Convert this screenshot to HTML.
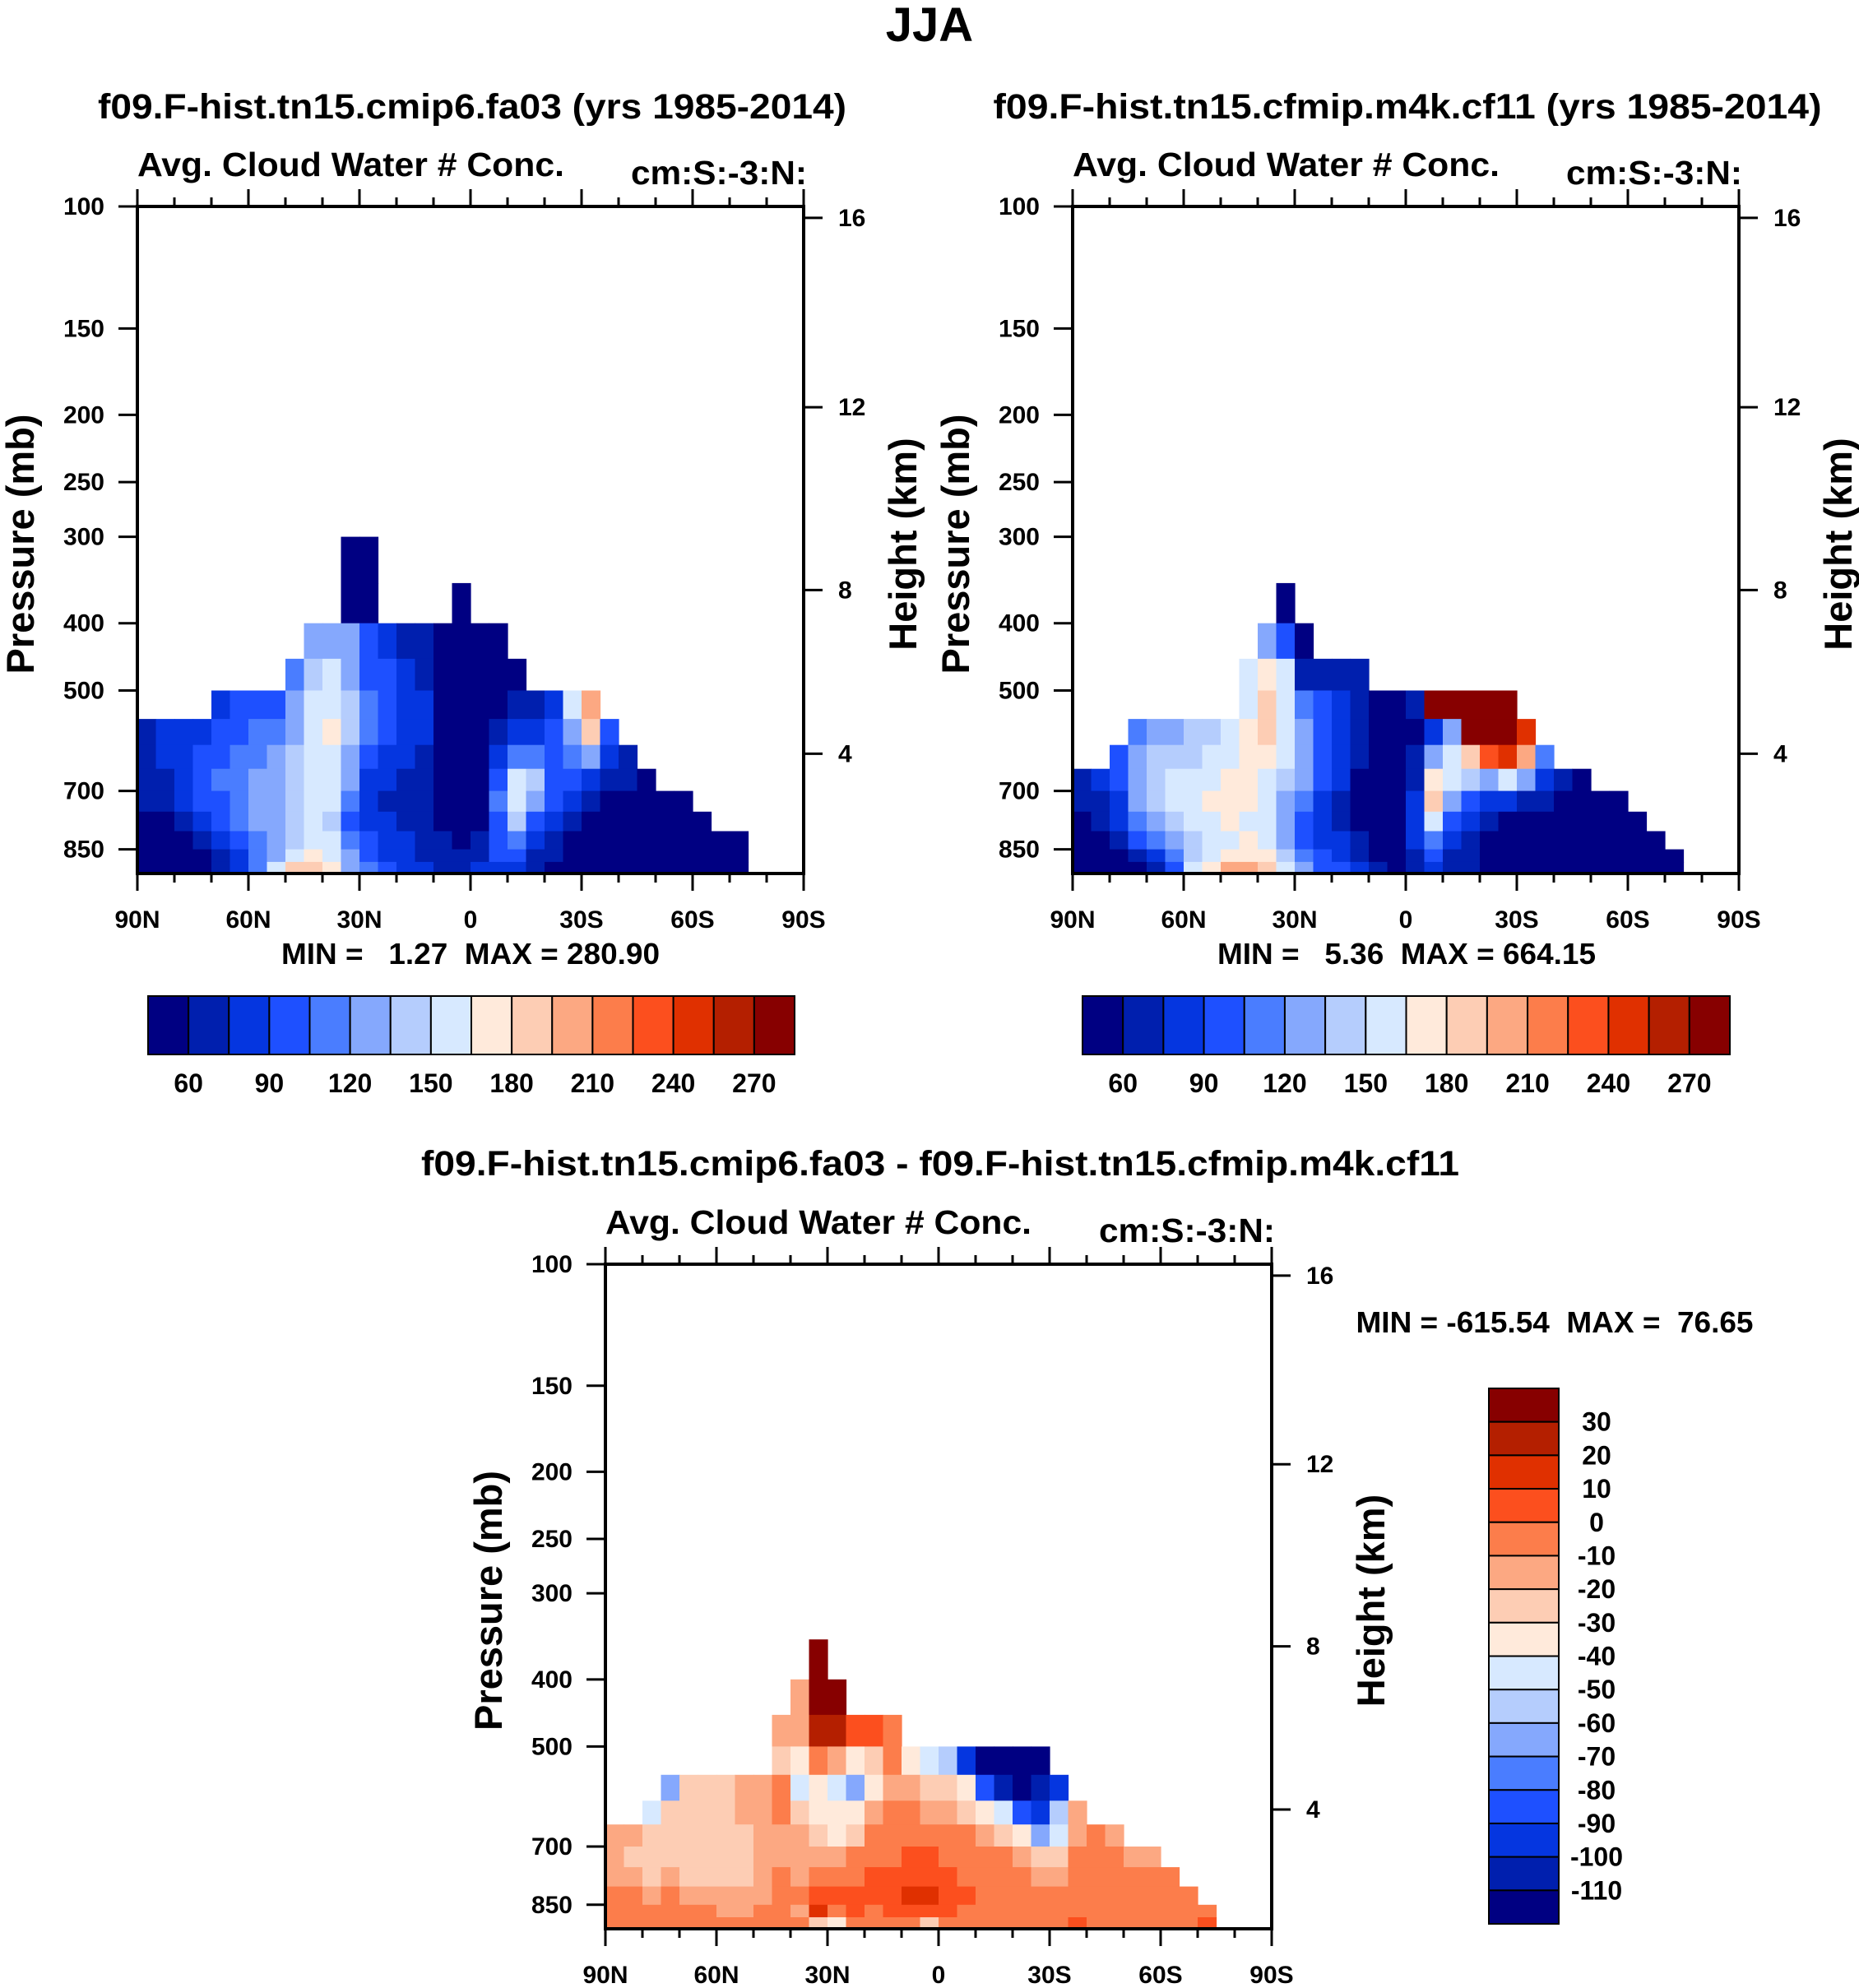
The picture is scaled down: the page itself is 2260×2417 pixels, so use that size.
<!DOCTYPE html>
<html><head><meta charset="utf-8"><style>
html,body{margin:0;padding:0;background:#fff;}
svg{display:block;font-family:"Liberation Sans",sans-serif;font-weight:bold;}
.pre{white-space:pre;}
</style></head><body>
<svg id="fig" width="2260" height="2417" viewBox="0 0 2260 2417" xmlns="http://www.w3.org/2000/svg">
<text x="1130" y="50" text-anchor="middle" font-size="58">JJA</text>
</svg>
<script>
// ---- shared data ----
const levelEdges = [300,350,400,450,500,550,600,650,700,750,800,850,925,1000];
const latEdgesStart = 90; const latStep = 5;
const pressureTicks = [100,150,200,250,300,400,500,700,850];
const heightTicks = [16,12,8,4];
const latLabels = ['90N','60N','30N','0','30S','60S','90S'];
const colors = ['#000082','#001fae','#0536e0','#1e50ff','#4a7dff','#85a8fd','#b5cdfd','#d7e9ff','#ffeadb','#fdcdb4','#fca882','#fc7d4b','#fc4f1e','#e03000','#b41f00','#870000'];
const levelsAbs = [60,75,90,105,120,135,150,165,180,195,210,225,240,255,270];
const levelsDiff = [-110,-100,-90,-80,-70,-60,-50,-40,-30,-20,-10,0,10,20,30];
const cbAbsLabels = ['60','90','120','150','180','210','240','270'];
const cbDiffLabels = ['30','20','10','0','-10','-20','-30','-40','-50','-60','-70','-80','-90','-100','-110'];

const tops1 = [550,550,550,550,500,500,500,500,450,400,400,300,300,400,400,400,400,350,400,400,450,500,500,500,500,550,600,650,700,700,750,800,800];
const vals1 = [
[70,70,65,60,55,50,45,45],[75,75,70,65,55,50,45,45],[80,85,80,75,65,55,50,50],[85,90,95,90,80,65,55,55],
[85,90,100,105,100,95,80,70,65],[90,100,110,115,115,110,100,85,80],[95,105,115,125,125,120,115,110,110],[100,110,120,130,130,130,125,130,150],
[110,120,130,135,140,140,140,145,160,185],[120,140,155,160,155,150,150,150,155,170,190],[130,150,160,165,160,155,150,145,150,160,170],
[40,40,120,130,140,140,130,120,110,100,110,120,130],[40,40,90,100,110,110,95,80,75,80,90,100,110],
[80,90,100,95,85,75,70,75,80,85,95],[70,80,85,85,80,70,65,70,75,80,85],[60,70,75,75,70,65,60,60,65,70,75],[45,50,55,55,55,50,50,55,60,65,70],
[40,40,40,40,40,40,40,40,45,55,60,65],[40,40,40,40,40,45,50,55,60,70,80],[40,45,55,60,75,100,110,100,90,90,85],
[55,65,80,110,150,160,140,110,90,80],[70,85,110,140,130,100,80,70,65],[75,90,100,100,90,75,65,60,55],[150,130,110,90,75,65,55,50,50],[200,180,120,80,65,55,50,45,45],
[100,80,65,55,50,45,45,45],[70,60,50,45,45,45,45],[55,50,45,45,45,45],[45,45,45,45,45],[45,45,45,45,45],[45,45,45,45],[45,45,45],[45,45,45]];

const tops2 = [650,650,600,550,550,550,550,550,550,450,400,350,400,450,450,450,500,500,500,500,500,500,500,500,550,600,650,650,700,700,750,800,850];
const vals2 = [
[70,60,55,45,45,45],[75,65,60,50,45,45],[100,95,85,75,60,50,45],[110,120,130,125,110,90,65,55],
[120,135,145,140,130,110,85,70],[130,140,150,150,140,125,110,100],[135,145,155,160,155,145,140,150],[140,150,160,165,160,155,160,175],
[150,155,165,165,165,160,170,200],[150,160,170,170,165,165,160,165,175,200],[120,170,185,180,170,160,155,150,160,170,190],
[40,100,150,160,160,150,140,130,120,130,140,150],[40,70,110,130,130,120,110,100,100,110,120,130],
[60,90,100,100,90,85,80,80,90,100,110],[70,80,85,80,75,70,70,75,85,95],[60,65,65,60,55,50,55,60,70,80],
[50,45,40,40,40,45,50,55,60],[50,45,40,40,40,40,45,50,55],[60,55,60,70,75,80,80,70,65],[290,80,120,170,180,150,110,90,80],
[300,130,160,150,120,90,80,70,70],[300,290,180,140,100,80,65,60,60],[300,290,230,120,80,60,55,50,50],[300,280,250,150,75,55,50,45,45],
[240,200,120,70,55,50,45,45],[110,80,60,50,45,45,45],[60,50,45,45,45,45],[50,45,45,45,45,45],[45,45,45,45,45],[45,45,45,45,45],[45,45,45,45],[45,45,45],[45,45]];

const tops3 = [650,650,600,550,550,550,550,550,550,450,400,350,400,450,450,450,500,500,500,500,500,500,500,500,550,600,650,650,700,700,750,800,850];
const vals3 = [
[-15,-15,-15,-5,-5,-5],[-20,-25,-15,-5,-5,-5],[-50,-25,-30,-25,-15,-5,-5],[-70,-30,-30,-25,-20,-10,-5,-5],
[-30,-25,-25,-30,-25,-15,-10,-5],[-25,-25,-25,-30,-30,-20,-10,-5],[-25,-25,-30,-30,-25,-20,-15,-5],[-20,-20,-25,-25,-25,-20,-15,-5],
[-15,-15,-20,-20,-20,-15,-10,-5],[-15,-25,-10,-10,-15,-15,-10,-5,-10,-5],[-15,-20,-40,-45,-30,-20,-15,-15,-10,-15,-5],
[35,35,25,-10,-35,-40,-30,-15,-5,5,10,-30],[30,20,-20,-50,-40,-35,-20,-10,5,-5,-35],
[5,-40,-70,-40,-30,-10,-5,5,5,-5],[0,-30,-40,-20,-5,-5,5,5,-5,-5],[-5,-10,-20,-10,-5,-5,5,5,5,-5],
[-35,-20,-5,-5,5,5,10,5,-5],[-45,-30,-15,-5,5,5,10,5,-30],[-60,-30,-20,-10,-5,5,5,5,-5],[-100,-40,-30,-10,-5,-5,5,-5,-5],
[-120,-90,-40,-20,-10,-5,-5,-5,-5],[-120,-110,-50,-30,-10,-5,-5,-5,-5],[-120,-120,-90,-40,-20,-10,-5,-5,-5],[-120,-110,-100,-70,-30,-15,-5,-5,-5],
[-100,-60,-50,-30,-15,-5,-5,-5],[-20,-15,-10,-5,-5,-5,5],[-10,-10,-5,-5,-5,-5],[-15,-10,-10,-5,-5,-5],[-15,-10,-5,-5,-5],[-15,-10,-5,-5,-5],[-10,-5,-5,-5],[-10,-5,-5],[-5,5]];

const tickP = [100,150,200,250,300,400,500,700,850,1000];
const tickF = [0,0.1829,0.3124,0.4133,0.4952,0.6248,0.7257,0.8762,0.9638,1.0];
const heightF = {16:0.0171,12:0.301,8:0.575,4:0.8205};
function pFrac(p){
  for(let i=0;i<tickP.length-1;i++){
    if(p>=tickP[i]&&p<=tickP[i+1]){
      const t=(Math.log(p)-Math.log(tickP[i]))/(Math.log(tickP[i+1])-Math.log(tickP[i]));
      return tickF[i]+t*(tickF[i+1]-tickF[i]);
    }
  }
  return 1;
}
function classIdx(v,lev){let k=0;while(k<lev.length&&v>=lev[k])k++;return k;}
const NS='http://www.w3.org/2000/svg';
const svg=document.getElementById('fig');
function mk(tag,attrs,parent){const e=document.createElementNS(NS,tag);for(const k in attrs)e.setAttribute(k,attrs[k]);(parent||svg).appendChild(e);return e;}
function txt(s,attrs,parent){const e=mk('text',attrs,parent);e.textContent=s;return e;}

function panel(o){
  const g=mk('g',{});
  
  
  const X=o.x,Y=o.y,W=o.w,H=o.h;
  const xs=lat=>X+(90-lat)/180*W;
  const ys=p=>Y+pFrac(p)*H;
  const cg=mk('g',{},g);
  
  
  o.tops.forEach((top,c)=>{
    const r0=levelEdges.indexOf(top);
    const col=o.vals[c];
    col.forEach((v,k)=>{
      const r=r0+k;
      const x0=xs(latEdgesStart-c*latStep),x1=xs(latEdgesStart-(c+1)*latStep);
      const y0=ys(levelEdges[r]),y1=ys(levelEdges[r+1]);
      const rc=mk('rect',{x:x0.toFixed(1),y:y0.toFixed(1),width:(x1-x0+0.6).toFixed(1),height:(y1-y0+0.6).toFixed(1),fill:colors[classIdx(v,o.lev)]},cg);
      
      
    });
  });
  const fr=mk('rect',{x:X,y:Y,width:W,height:H,fill:'none',stroke:'#000','stroke-width':4},g);
  
  
  pressureTicks.forEach(p=>{
    const y=ys(p);
    mk('line',{x1:X-23,x2:X,y1:y,y2:y,stroke:'#000','stroke-width':3},g);
    const t=txt(String(p),{x:X-40,y:y+10,'text-anchor':'end','font-size':30},g);
    
    
  });
  heightTicks.forEach(h=>{
    const y=Y+heightF[h]*H;
    mk('line',{x1:X+W,x2:X+W+23,y1:y,y2:y,stroke:'#000','stroke-width':3},g);
    const t=txt(String(h),{x:X+W+42,y:y+10,'font-size':30},g);
    
    
  });
  for(let lat=90;lat>=-90;lat-=10){
    const x=xs(lat);const major=(lat%30===0);const L=major?21:11;
    mk('line',{x1:x,x2:x,y1:Y,y2:Y-L,stroke:'#000','stroke-width':3},g);
    mk('line',{x1:x,x2:x,y1:Y+H,y2:Y+H+L,stroke:'#000','stroke-width':3},g);
  }
  latLabels.forEach((s,i)=>{
    const t=txt(s,{x:xs(90-30*i),y:Y+H+66,'text-anchor':'middle','font-size':30},g);
    
    
  });
  const pt=txt('Pressure (mb)',{x:0,y:0,'text-anchor':'middle','font-size':47,transform:`translate(${X-126},${Y+0.5*H+5}) rotate(-90)`},g);
  
  
  const ht=txt('Height (km)',{x:0,y:0,'text-anchor':'middle','font-size':47,transform:`translate(${X+W+137},${Y+0.5*H+5}) rotate(-90)`},g);
  
  
  const st=txt('Avg. Cloud Water # Conc.',{x:X,y:Y-37,'font-size':41,textLength:o.subW,lengthAdjust:'spacingAndGlyphs'},g);
  
  
  const ut=txt('cm:S:-3:N:',{x:X+W+4,y:Y-27,'text-anchor':'end','font-size':41,textLength:214,lengthAdjust:'spacingAndGlyphs'},g);
  
  
  const tt=txt(o.title,{x:o.tx,y:o.ty,'text-anchor':'middle','font-size':43,textLength:o.tw,lengthAdjust:'spacingAndGlyphs'},g);
  
  
}

panel({name:'panel-control',x:167,y:251,w:810,h:811,tops:tops1,vals:vals1,lev:levelsAbs,subW:519,title:'f09.F-hist.tn15.cmip6.fa03 (yrs 1985-2014)',tx:574,ty:144,tw:910});
panel({name:'panel-test',x:1304,y:251,w:810,h:811,tops:tops2,vals:vals2,lev:levelsAbs,subW:519,title:'f09.F-hist.tn15.cfmip.m4k.cf11 (yrs 1985-2014)',tx:1711,ty:144,tw:1007});
panel({name:'panel-difference',x:736,y:1537,w:810,h:808,tops:tops3,vals:vals3,lev:levelsDiff,subW:518,title:'f09.F-hist.tn15.cmip6.fa03 - f09.F-hist.tn15.cfmip.m4k.cf11',tx:1143,ty:1429,tw:1262});

[[572,1172,'MIN =   1.27  MAX = 280.90',460],[1710,1172,'MIN =   5.36  MAX = 664.15',460],[1890,1620,'MIN = -615.54  MAX =  76.65',483]].forEach(m=>{
  const t=txt(m[2],{x:m[0],y:m[1],'text-anchor':'middle','font-size':36,'class':'pre',textLength:m[3],lengthAdjust:'spacingAndGlyphs'});
  
  
});

function hbar(x0,x1,y0,y1,name){
  const g=mk('g',{});
  
  
  const w=(x1-x0)/colors.length;
  colors.forEach((c,i)=>{
    const r=mk('rect',{x:x0+i*w,y:y0,width:w,height:y1-y0,fill:c,stroke:'#000','stroke-width':2},g);
    
    
  });
  cbAbsLabels.forEach((s,i)=>{
    const t=txt(s,{x:x0+(2*i+1)*w,y:y1+46,'text-anchor':'middle','font-size':32},g);
    
    
  });
}
hbar(180,966,1211,1282,'colorbar-control');
hbar(1316,2103,1211,1282,'colorbar-test');
(function(){
  const g=mk('g',{});
  
  
  const x0=1810,x1=1895,y0=1688,y1=2339,h=(y1-y0)/colors.length;
  colors.slice().reverse().forEach((c,i)=>{
    const r=mk('rect',{x:x0,y:y0+i*h,width:x1-x0,height:h,fill:c,stroke:'#000','stroke-width':2},g);
    
    
  });
  cbDiffLabels.forEach((s,i)=>{
    const t=txt(s,{x:1941,y:y0+(i+1)*h+11,'text-anchor':'middle','font-size':32},g);
    
    
  });
})();
</script>
</body></html>
